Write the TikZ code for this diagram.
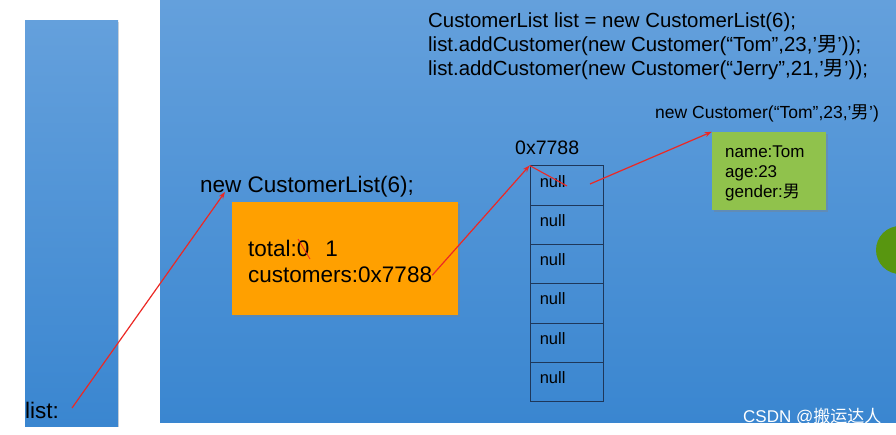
\documentclass[tikz,border=0pt]{standalone}
\usepackage{fontspec}
\setmainfont{Liberation Sans}
\newfontfamily\cjk{Noto Sans CJK SC}
\usetikzlibrary{shadows,arrows.meta}
\definecolor{ptrred}{RGB}{236,40,36}
\definecolor{boxorange}{RGB}{255,160,0}
\definecolor{boxgreen}{RGB}{144,194,76}
\definecolor{blueTop}{RGB}{100,160,220}
\definecolor{blueBot}{RGB}{58,134,208}
\definecolor{cellline}{RGB}{30,55,90}
\definecolor{dotgreen}{RGB}{88,150,16}
\begin{document}
\begin{tikzpicture}[x=1pt,y=-1pt,
  txt/.style={anchor=base west,inner sep=0pt,text=black},
  code/.style={txt,font=\fontsize{20.4}{24}\selectfont},
  big/.style={txt,font=\fontsize{22.5}{26}\selectfont},
  addrf/.style={txt,font=\fontsize{19.5}{24}\selectfont},
  mid/.style={txt,font=\fontsize{17}{20}\selectfont},
  small/.style={txt,font=\fontsize{17.5}{20}\selectfont},
  nullf/.style={txt,font=\fontsize{16.5}{20}\selectfont},
  cell/.style={draw=cellline,line width=0.9pt,minimum width=73pt,minimum height=39.3pt,inner sep=0pt},
  ptr/.style={draw=ptrred,line width=1.2pt,-{Stealth[length=7pt,width=5pt]}},
  strike/.style={draw=ptrred,line width=1.1pt},
  area/.style={top color=blueTop,bottom color=blueBot,draw=none}
]
\useasboundingbox (0,0) rectangle (896,435);
\fill[white] (0,0) rectangle (896,435);
% stack and heap areas
\path[area,drop shadow={shadow xshift=1pt,shadow yshift=-1pt,opacity=0.3}] (25,21) rectangle (118,426);
\path[area] (160,0) rectangle (896,422);
% code lines
\node[code] (code1) at (428,28) {CustomerList list = new CustomerList(6);};
\node[code] (code2) at (428,52) {list.addCustomer(new Customer(“Tom”,23,’{\cjk 男}’));};
\node[code] (code3) at (428,76) {list.addCustomer(new Customer(“Jerry”,21,’{\cjk 男}’));};
% customer object
\node[small] (newcust) at (655,119) {new Customer(“Tom”,23,’{\cjk 男}’)};
\node[fill=boxgreen,minimum width=114pt,minimum height=78pt,inner sep=0pt,
      drop shadow={shadow xshift=2pt,shadow yshift=-2pt,opacity=0.35}] (cust) at (769,171) {};
\node[mid] (cname) at (725,158) {name:Tom};
\node[mid] (cage) at (725,178) {age:23};
\node[mid] (cgender) at (725,198) {gender:{\cjk 男}};
% array
\node[addrf] (addr) at (515,155) {0x7788};
\foreach \i in {0,...,5} {
  \node[cell] (c\i) at (566.5,{185.6+39.3*\i}) {};
  \node[nullf] (n\i) at ([xshift=10pt,yshift=-1.5pt]c\i.west) {null};
}
% CustomerList object
\node[big] (newcl) at (200,193) {new CustomerList(6);};
\node[fill=boxorange,minimum width=226pt,minimum height=113pt,inner sep=0pt,
      drop shadow={shadow xshift=2pt,shadow yshift=-2pt,opacity=0.35}] (cl) at (345,258.5) {};
\node[big] (total) at (248,257) {total:0\hspace{16pt}1};
\node[big] (custs) at (248,283) {customers:0x7788};
% list variable
\node[big] (listv) at (25,418) {list:};
% watermark
\node[txt,text=white,font=\fontsize{17}{20}\selectfont] (wm) at (743,422) {CSDN @{\cjk 搬运达人}};
% green dot at right edge
\fill[dotgreen] (900,250) circle (24);
% pointers
\coordinate (lp) at (72,408);
\coordinate (clp) at (225,192);
\coordinate (s0a) at (298,239);
\coordinate (s0b) at (310,259);
\coordinate (nullx) at (567,186);
\coordinate (np) at (590,184);
\draw[ptr] (lp) -- (clp);
\draw[ptr] (custs.east) -- (c0.north west);
\draw[strike] (c0.north west) -- (nullx);
\draw[ptr] (np) -- (cust.north west);
\draw[strike,line width=0.8pt] (s0a) -- (s0b);
\end{tikzpicture}
\end{document}
